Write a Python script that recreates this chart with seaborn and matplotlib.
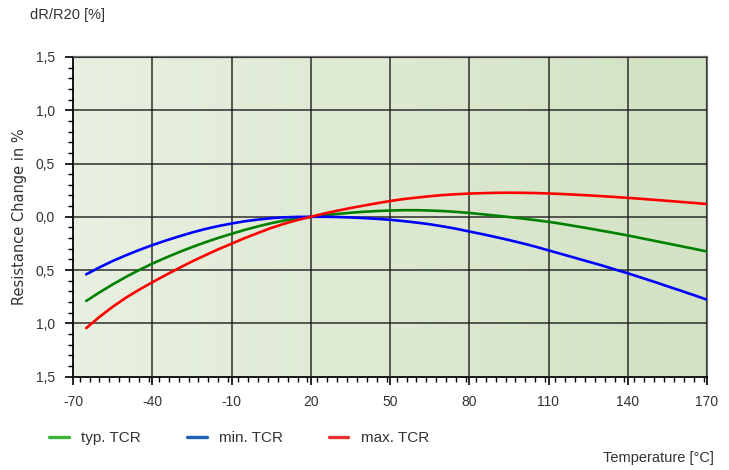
import numpy as np
import pandas as pd
import matplotlib
matplotlib.use('Agg')
import matplotlib.pyplot as plt
from matplotlib.colors import LinearSegmentedColormap
from matplotlib.lines import Line2D
from matplotlib.ticker import MultipleLocator
import seaborn as sns

# temperature points (deg C)
temps = list(range(-65, 175, 5))

typ_tcr = [-0.79, -0.71, -0.635, -0.565, -0.50, -0.44, -0.385, -0.333, -0.285, -0.24,
           -0.198, -0.16, -0.123, -0.09, -0.06, -0.035, -0.016, 0.0,
           0.014, 0.027, 0.038, 0.047, 0.054, 0.059, 0.062, 0.062, 0.059, 0.054,
           0.046, 0.036, 0.024, 0.011, -0.002, -0.016, -0.031, -0.047, -0.066, -0.087,
           -0.108, -0.13, -0.152, -0.175, -0.2, -0.225, -0.25, -0.275, -0.3, -0.326]
min_tcr = [-0.54, -0.475, -0.415, -0.362, -0.312, -0.266, -0.224, -0.185, -0.148, -0.115,
           -0.087, -0.063, -0.042, -0.026, -0.013, -0.005, -0.001, 0.0,
           0.0, -0.002, -0.006, -0.012, -0.019, -0.028, -0.04, -0.054, -0.07, -0.09,
           -0.112, -0.138, -0.163, -0.19, -0.218, -0.248, -0.28, -0.315, -0.35, -0.385,
           -0.42, -0.455, -0.493, -0.53, -0.57, -0.61, -0.652, -0.693, -0.735, -0.778]
max_tcr = [-1.045, -0.94, -0.845, -0.76, -0.685, -0.615, -0.548, -0.483, -0.42, -0.362,
           -0.305, -0.253, -0.2, -0.152, -0.105, -0.065, -0.03, 0.0,
           0.03, 0.057, 0.082, 0.105, 0.127, 0.148, 0.166, 0.18, 0.193, 0.204,
           0.212, 0.218, 0.222, 0.225, 0.226, 0.225, 0.223, 0.219, 0.214, 0.208,
           0.201, 0.194, 0.186, 0.178, 0.169, 0.159, 0.15, 0.14, 0.13, 0.12]

series_names = ['typ. TCR', 'min. TCR', 'max. TCR']
x_ticks = [-70, -40, -10, 20, 50, 80, 110, 140, 170]
y_ticks = [-1.5, -1.0, -0.5, 0.0, 0.5, 1.0, 1.5]
y_ticklabels = ['1,5', '1,0', '0,5', '0,0', '0,5', '1,0', '1,5']

df = pd.DataFrame({
    'temp': temps * 3,
    'change': typ_tcr + min_tcr + max_tcr,
    'series': [s for s in series_names for _ in temps],
})

sns.set_style('white')
plt.rcParams['font.family'] = ['Liberation Sans', 'DejaVu Sans']
TXT = '#333333'

fig = plt.figure(figsize=(7.29, 4.70), dpi=100)
ax = fig.add_axes([73/729, 1 - 376.6/470, (707 - 73)/729, (376.6 - 57)/470])

# background gradient
bg = LinearSegmentedColormap.from_list('bg', ['#e8f0e1', '#d2e2c3'])
ax.imshow(np.linspace(0, 1, 256).reshape(1, -1), cmap=bg, aspect='auto',
          extent=[-70, 170, -1.5, 1.5], zorder=0, interpolation='bilinear')

sns.lineplot(data=df, x='temp', y='change', hue='series', ax=ax,
             palette={'typ. TCR': '#008000', 'min. TCR': '#0000ff', 'max. TCR': '#ff0000'},
             linewidth=1.9, legend=False, zorder=3)

ax.set_xlim(-70, 170)
ax.set_ylim(-1.5, 1.5)
ax.set_xticks(x_ticks)
ax.set_xticklabels([str(t) for t in x_ticks])
ax.set_yticks(y_ticks)
ax.set_yticklabels(y_ticklabels)
ax.xaxis.set_minor_locator(MultipleLocator(3.75))
ax.yaxis.set_minor_locator(MultipleLocator(0.1))
ax.tick_params(axis='both', which='major', direction='out', length=6, width=1.2,
               color='black', labelsize=10, labelcolor=TXT, pad=7)
ax.tick_params(axis='both', which='minor', direction='out', length=3.5, width=1.0,
               color='black')
ax.tick_params(axis='x', which='both', bottom=True)
ax.tick_params(axis='y', which='both', left=True)
ax.set_xlabel('')
ax.set_ylabel('')

ax.grid(True, which='major', color='#1e1e1e', linewidth=1.2, alpha=0.85, zorder=1)
ax.set_axisbelow(False)
for side in ['left', 'bottom']:
    ax.spines[side].set_color('black')
    ax.spines[side].set_linewidth(1.3)
for side in ['top', 'right']:
    ax.spines[side].set_color('#707070')
    ax.spines[side].set_linewidth(1.6)
for ln in ax.get_xgridlines() + ax.get_ygridlines():
    ln.set_zorder(1)

fig.text(30/729, 1 - 15/470, 'dR/R20 [%]', fontsize=10.5, color=TXT, va='center', ha='left')
fig.text(20/729, 1 - 217/470, 'Resistance Change in %', fontsize=10.5, color=TXT,
         rotation=90, va='center', ha='center', family=['DejaVu Sans'])
fig.text(714/729, 1 - 458/470, 'Temperature [°C]', fontsize=10.5, color=TXT,
         va='center', ha='right')

handles = [Line2D([], [], color=c, linewidth=2.4)
           for c in ['#3cb43c', '#1f5fb4', '#e83030']]
fig.legend(handles, series_names, loc='center left',
           bbox_to_anchor=(49/729, 1 - 438/470), ncol=3, frameon=False,
           fontsize=11, labelcolor=TXT, handlelength=1.3, handletextpad=0.8,
           columnspacing=3.0, borderpad=0, borderaxespad=0)

plt.savefig('out.png', dpi=100)
plt.close(fig)
